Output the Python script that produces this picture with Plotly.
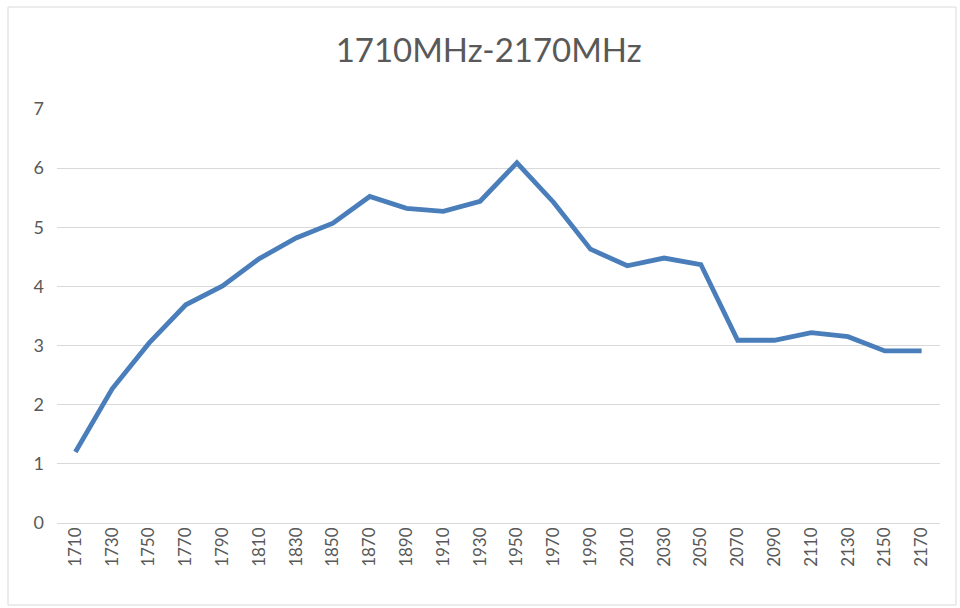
import plotly.graph_objects as go

freqs = ["1710", "1730", "1750", "1770", "1790", "1810", "1830", "1850", "1870", "1890",
         "1910", "1930", "1950", "1970", "1990", "2010", "2030", "2050", "2070", "2090",
         "2110", "2130", "2150", "2170"]
values = [1.20, 2.27, 3.04, 3.69, 4.01, 4.47, 4.82, 5.07, 5.52, 5.32,
          5.27, 5.44, 6.09, 5.42, 4.63, 4.35, 4.48, 4.37, 3.09, 3.09,
          3.22, 3.15, 2.91, 2.91]
title_text = "1710MHz-2170MHz"

W, H = 960, 608
ml, mr, mt, mb = 57, 20, 109, 85
pw, ph = W - ml - mr, H - mt - mb

fig = go.Figure()
fig.add_trace(go.Scatter(
    x=freqs, y=values, mode="lines",
    line=dict(color="#4a7ebb", width=4.8),
    hoverinfo="x+y", showlegend=False,
))

def px_x(p):
    return (p - ml) / pw

def px_y(p):
    return (H - mb - p) / ph

fig.update_layout(
    width=W, height=H,
    margin=dict(l=ml, r=mr, t=mt, b=mb),
    paper_bgcolor="white", plot_bgcolor="white",
    font=dict(family="Lato, Liberation Sans, sans-serif", color="#595959"),
    title=dict(text=title_text, x=0.509, xanchor="center", y=1 - 50 / H, yanchor="middle",
               font=dict(size=33, color="#595959")),
    xaxis=dict(
        type="category", range=[-0.5, len(freqs) - 0.5],
        showgrid=False, showline=False, zeroline=False,
        tickangle=-90, tickfont=dict(size=17), ticks="",
    ),
    yaxis=dict(
        range=[0, 7], dtick=1, showgrid=True, gridcolor="#d9d9d9", gridwidth=1,
        zeroline=True, zerolinecolor="#d9d9d9", zerolinewidth=1, showline=False,
        tickfont=dict(size=18), ticks="", ticklabelstandoff=12,
    ),
    shapes=[dict(
        type="rect", xref="paper", yref="paper",
        x0=px_x(8), x1=px_x(956), y0=px_y(605), y1=px_y(7),
        line=dict(color="#d9d9d9", width=1), fillcolor="rgba(0,0,0,0)", layer="below",
    )],
)

fig.write_html("out.html", config={"displayModeBar": False},
               post_script="document.body.style.margin='0px';")
